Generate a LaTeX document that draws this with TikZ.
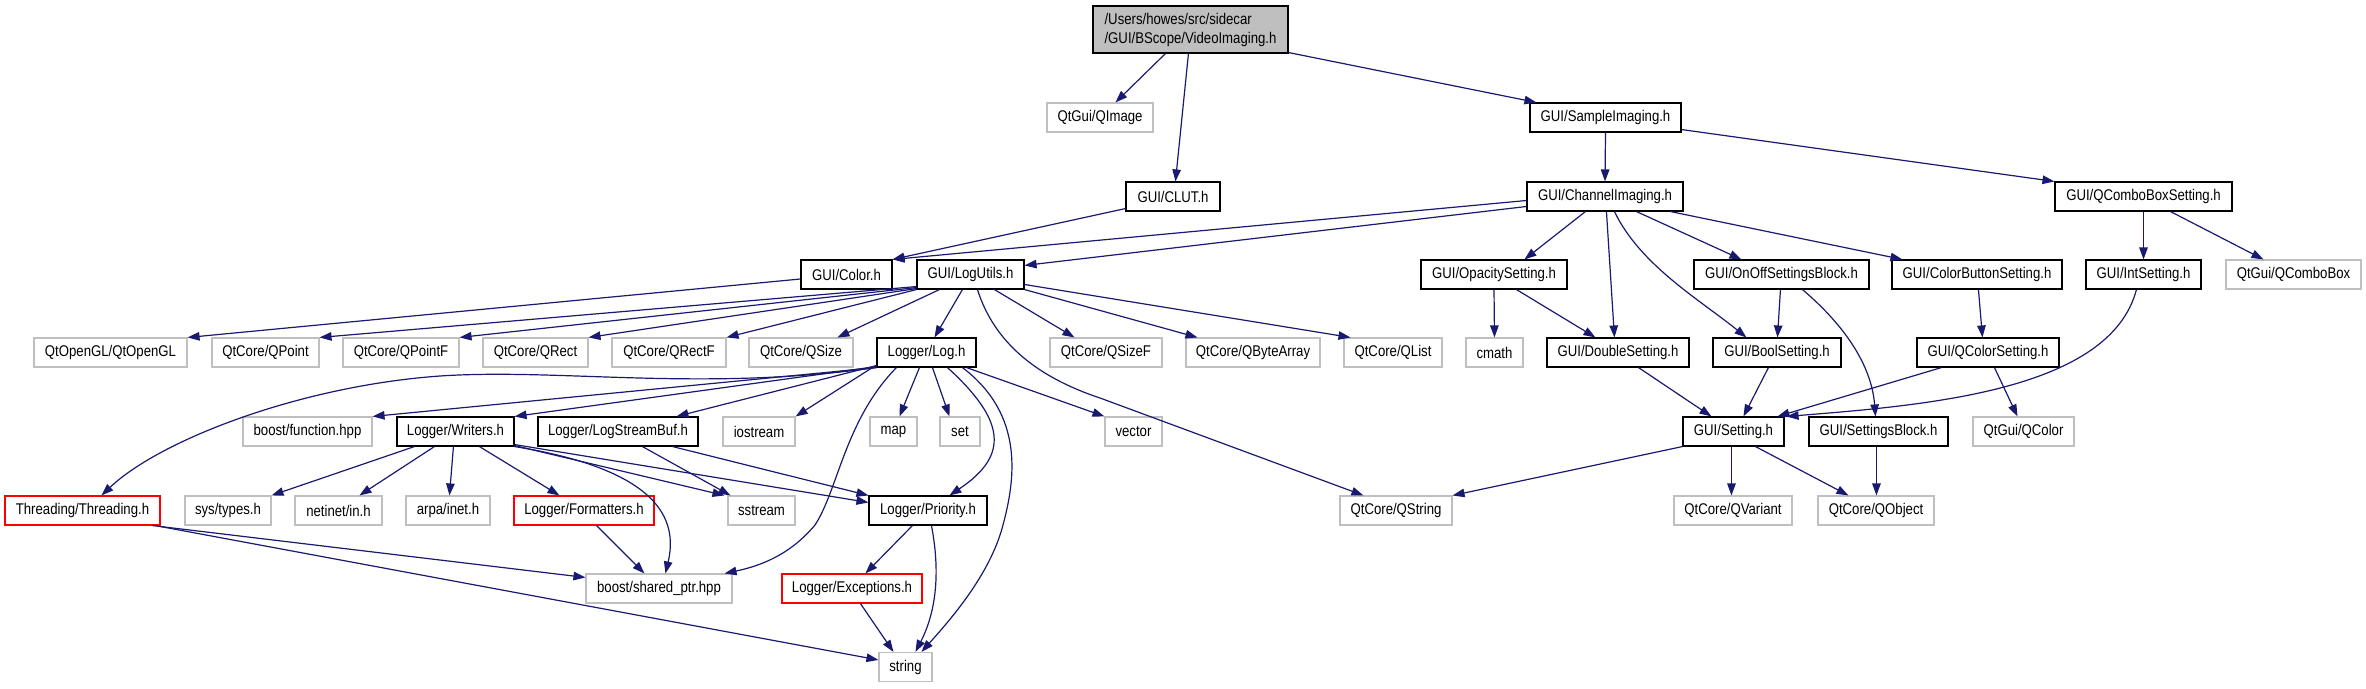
\documentclass[tikz,border=0pt]{standalone}
\usepackage{fontspec}
\setmainfont{Liberation Sans}[FakeStretch=0.85]
\usetikzlibrary{arrows.meta}
\definecolor{edgeblue}{HTML}{191970}
\definecolor{extgray}{HTML}{BFBFBF}
\definecolor{rootfill}{HTML}{BFBFBF}
\tikzset{
  box/.style={draw, rectangle, inner sep=0pt, minimum height=29, line width=1.1pt, font=\fontsize{15.5}{19}\selectfont},
  doc/.style={box, draw=black},
  ext/.style={box, draw=extgray},
  redbox/.style={box, draw=red},
  edge/.style={draw=edgeblue, line width=1.2pt, -{Triangle[length=12pt,width=8.5pt]}, fill=none},
}
\newcommand\nd[6]{\node[#1, minimum width={#4-#3}] (#2) at ({(#3+#4)/2},#5) {#6};}
\begin{document}
\begin{tikzpicture}[x=1pt,y=-1pt]
\useasboundingbox (0,0) rectangle (2366,688);
% row A
\node[doc, fill=rootfill, minimum width=195, minimum height=47, align=left] (root) at (1190.5,29.5) {/Users/howes/src/sidecar\\/GUI/BScope/VideoImaging.h};
% row B
\nd{ext}{qimage}{1047}{1153}{117.5}{QtGui/QImage}
\nd{doc}{sample}{1530}{1681}{117.5}{GUI/SampleImaging.h}
% row C
\nd{doc}{clut}{1126}{1220}{196.5}{GUI/CLUT.h}
\nd{doc}{channel}{1527}{1683}{196.5}{GUI/ChannelImaging.h}
\nd{doc}{qcbs}{2055}{2232}{196.5}{GUI/QComboBoxSetting.h}
% row D
\nd{doc}{color}{801}{892}{274.5}{GUI/Color.h}
\nd{doc}{logutils}{917}{1024}{274.5}{GUI/LogUtils.h}
\nd{doc}{opacity}{1421}{1567}{274.5}{GUI/OpacitySetting.h}
\nd{doc}{onoff}{1694}{1869}{274.5}{GUI/OnOffSettingsBlock.h}
\nd{doc}{colorbtn}{1892}{2062}{274.5}{GUI/ColorButtonSetting.h}
\nd{doc}{intset}{2086}{2201}{274.5}{GUI/IntSetting.h}
\nd{ext}{qcombobox}{2226}{2361}{274.5}{QtGui/QComboBox}
% row E
\nd{ext}{qtopengl}{34}{187}{352.5}{QtOpenGL/QtOpenGL}
\nd{ext}{qpoint}{212}{319}{352.5}{QtCore/QPoint}
\nd{ext}{qpointf}{343}{459}{352.5}{QtCore/QPointF}
\nd{ext}{qrect}{483}{588}{352.5}{QtCore/QRect}
\nd{ext}{qrectf}{612}{726}{352.5}{QtCore/QRectF}
\nd{ext}{qsize}{749}{853}{352.5}{QtCore/QSize}
\nd{doc}{log}{877}{976}{352.5}{Logger/Log.h}
\nd{ext}{qsizef}{1050}{1162}{352.5}{QtCore/QSizeF}
\nd{ext}{qbytearray}{1186}{1320}{352.5}{QtCore/QByteArray}
\nd{ext}{qlist}{1344}{1442}{352.5}{QtCore/QList}
\nd{ext}{cmath}{1466}{1523}{352.5}{cmath}
\nd{doc}{double}{1547}{1689}{352.5}{GUI/DoubleSetting.h}
\nd{doc}{bool}{1713}{1841}{352.5}{GUI/BoolSetting.h}
\nd{doc}{qcolorset}{1917}{2059}{352.5}{GUI/QColorSetting.h}
% row F
\nd{ext}{function}{243}{372}{431.5}{boost/function.hpp}
\nd{doc}{writers}{397}{514}{431.5}{Logger/Writers.h}
\nd{doc}{logstream}{538}{698}{431.5}{Logger/LogStreamBuf.h}
\nd{ext}{iostream}{723}{795}{431.5}{iostream}
\nd{ext}{map}{870}{917}{431.5}{map}
\nd{ext}{set}{940}{980}{431.5}{set}
\nd{ext}{vector}{1105}{1162}{431.5}{vector}
\nd{doc}{setting}{1683}{1784}{431.5}{GUI/Setting.h}
\nd{doc}{settingsblock}{1809}{1948}{431.5}{GUI/SettingsBlock.h}
\nd{ext}{qcolor}{1973}{2074}{431.5}{QtGui/QColor}
% row G
\nd{redbox}{threading}{5}{160}{510.5}{Threading/Threading.h}
\nd{ext}{systypes}{185}{271}{510.5}{sys/types.h}
\nd{ext}{netinet}{295}{382}{510.5}{netinet/in.h}
\nd{ext}{arpa}{406}{490}{510.5}{arpa/inet.h}
\nd{redbox}{formatters}{514}{654}{510.5}{Logger/Formatters.h}
\nd{ext}{sstream}{728}{795}{510.5}{sstream}
\nd{doc}{priority}{869}{987}{510.5}{Logger/Priority.h}
\nd{ext}{qstring}{1340}{1452}{510.5}{QtCore/QString}
\nd{ext}{qvariant}{1674}{1792}{510.5}{QtCore/QVariant}
\nd{ext}{qobject}{1818}{1934}{510.5}{QtCore/QObject}
% row H
\nd{ext}{shared}{586}{732}{588.5}{boost/shared\_ptr.hpp}
\nd{redbox}{exceptions}{782}{922}{588.5}{Logger/Exceptions.h}
% row I
\nd{ext}{string}{879}{932}{667}{string}

% ---- edges ----
\draw[edge] ([xshift=73]root.south west) -- ([xshift=69]qimage.north west);
\draw[edge] ([xshift=96]root.south west) -- ([xshift=50]clut.north west);
\draw[edge] ([yshift=1]root.south east) -- ([xshift=7]sample.north west);
\draw[edge] (sample.south) -- (channel.north);
\draw[edge] ([yshift=3]sample.south east) -- (qcbs.north west);
\draw[edge] ([yshift=3]clut.south west) -- (color.north east);
\draw[edge] ([yshift=-4]channel.west) -- (color.north east);
\draw[edge] ([yshift=-10]channel.west) -- ([yshift=-6]logutils.north east);
\draw[edge] ([xshift=59]channel.south west) -- ([xshift=104]opacity.north west);
\draw[edge] ([xshift=80]channel.south west) -- ([xshift=68]double.north west);
\draw[edge] ([xshift=88]channel.south west) .. controls (1640,265) and (1700,300) .. ([xshift=34]bool.north west);
\draw[edge] ([xshift=110]channel.south west) -- ([xshift=48]onoff.north west);
\draw[edge] ([xshift=144]channel.south west) -- ([xshift=11]colorbtn.north west);
\draw[edge] (qcbs.south) -- (intset.north);
\draw[edge] ([xshift=116]qcbs.south west) -- ([xshift=38]qcombobox.north west);
\draw[edge] ([yshift=-4.5]color.west) -- (qtopengl.north east);
% LogUtils
\draw[edge] ([yshift=3]logutils.south west) -- (qpoint.north east);
\draw[edge] ([yshift=2]logutils.south west) -- (qpointf.north east);
\draw[edge] ([yshift=1]logutils.south west) -- (qrect.north east);
\draw[edge] (logutils.south west) -- (qrectf.north east);
\draw[edge] ([xshift=23]logutils.south west) -- ([xshift=89]qsize.north west);
\draw[edge] ([xshift=46]logutils.south west) -- ([xshift=58]log.north west);
\draw[edge] ([xshift=78]logutils.south west) -- ([xshift=25]qsizef.north west);
\draw[edge] (logutils.south east) -- ([xshift=12]qbytearray.north west);
\draw[edge] ([yshift=-10]logutils.east) -- ([xshift=7]qlist.north west);
\draw[edge] ([xshift=61]logutils.south west) .. controls (995,345) and (1040,378) .. (1100,398) -- ([xshift=24]qstring.north west);
% Log.h
\draw[edge] (log.south west) -- (function.north east);
\draw[edge] ([yshift=1]log.south west) -- (writers.north east);
\draw[edge] ([yshift=2]log.south west) -- ([xshift=139]logstream.north west);
\draw[edge] ([xshift=-4]log.south west) -- (iostream.north east);
\draw[edge] (log.south west) .. controls (700,392) and (560,368) .. (440,376) .. controls (300,386) and (160,440) .. ([xshift=97]threading.north west);
\draw[edge] ([xshift=20]log.south west) .. controls (845,420) and (838,490) .. (815,525) .. controls (790,555) and (760,566) .. ([xshift=-8]shared.north east);
\draw[edge] ([xshift=43]log.south west) -- ([xshift=30]map.north west);
\draw[edge] ([xshift=56]log.south west) -- ([xshift=10]set.north west);
\draw[edge] ([xshift=71]log.south west) .. controls (1005,420) and (1010,455) .. ([xshift=81]priority.north west);
\draw[edge] ([xshift=86]log.south west) .. controls (1025,415) and (1015,480) .. (1003,525) .. controls (990,575) and (950,620) .. ([xshift=43]string.north west);
\draw[edge] ([xshift=90]log.south west) -- (vector.north west);
% Writers
\draw[edge] ([xshift=18]writers.south west) -- (systypes.north east);
\draw[edge] ([xshift=38]writers.south west) -- ([xshift=65]netinet.north west);
\draw[edge] ([xshift=57]writers.south west) -- ([xshift=44]arpa.north west);
\draw[edge] ([xshift=83]writers.south west) -- ([xshift=46]formatters.north west);
\draw[edge] (writers.south east) .. controls (660,470) and (678,520) .. ([xshift=80]shared.north west);
\draw[edge] ([yshift=1]writers.south east) -- ([xshift=-3]sstream.north west);
\draw[edge] ([yshift=2]writers.south east) -- ([yshift=-7]priority.north west);
% LogStreamBuf
\draw[edge] ([xshift=105]logstream.south west) -- ([xshift=3]sstream.north west);
\draw[edge] ([xshift=135]logstream.south west) -- (priority.north west);
% Threading
\draw[edge] ([xshift=148]threading.south west) -- ([yshift=-4]shared.north west);
\draw[edge] ([yshift=-1]threading.south east) -- ([yshift=-8]string.north west);
\draw[edge] ([xshift=83]formatters.south west) -- ([xshift=59]shared.north west);
% Priority
\draw[edge] ([xshift=44]priority.south west) -- ([xshift=84]exceptions.north west);
\draw[edge] ([xshift=63]priority.south west) .. controls (940,570) and (937,610) .. ([xshift=37]string.north west);
\draw[edge] ([xshift=79]exceptions.south west) -- ([xshift=15]string.north west);
% Settings
\draw[edge] (opacity.south) -- (cmath.north);
\draw[edge] ([xshift=96]opacity.south west) -- ([xshift=49]double.north west);
\draw[edge] ([xshift=87]onoff.south west) -- ([xshift=65]bool.north west);
\draw[edge] ([xshift=109]onoff.south west) .. controls (1850,330) and (1872,370) .. ([xshift=67]settingsblock.north west);
\draw[edge] ([xshift=87]colorbtn.south west) -- ([xshift=66]qcolorset.north west);
\draw[edge] ([xshift=51]intset.south west) .. controls (2110,390) and (1930,405) .. ([xshift=2]setting.north east);
\draw[edge] ([xshift=92]double.south west) -- ([xshift=29]setting.north west);
\draw[edge] ([xshift=56]bool.south west) -- ([xshift=61]setting.north west);
\draw[edge] ([xshift=25]qcolorset.south west) -- ([xshift=95]setting.north west);
\draw[edge] ([xshift=78]qcolorset.south west) -- ([xshift=45]qcolor.north west);
\draw[edge] (setting.south west) -- (qstring.north east);
\draw[edge] ([xshift=49]setting.south west) -- ([xshift=58]qvariant.north west);
\draw[edge] ([xshift=73]setting.south west) -- ([xshift=31]qobject.north west);
\draw[edge] ([xshift=68]settingsblock.south west) -- ([xshift=59]qobject.north west);
\end{tikzpicture}
\end{document}
